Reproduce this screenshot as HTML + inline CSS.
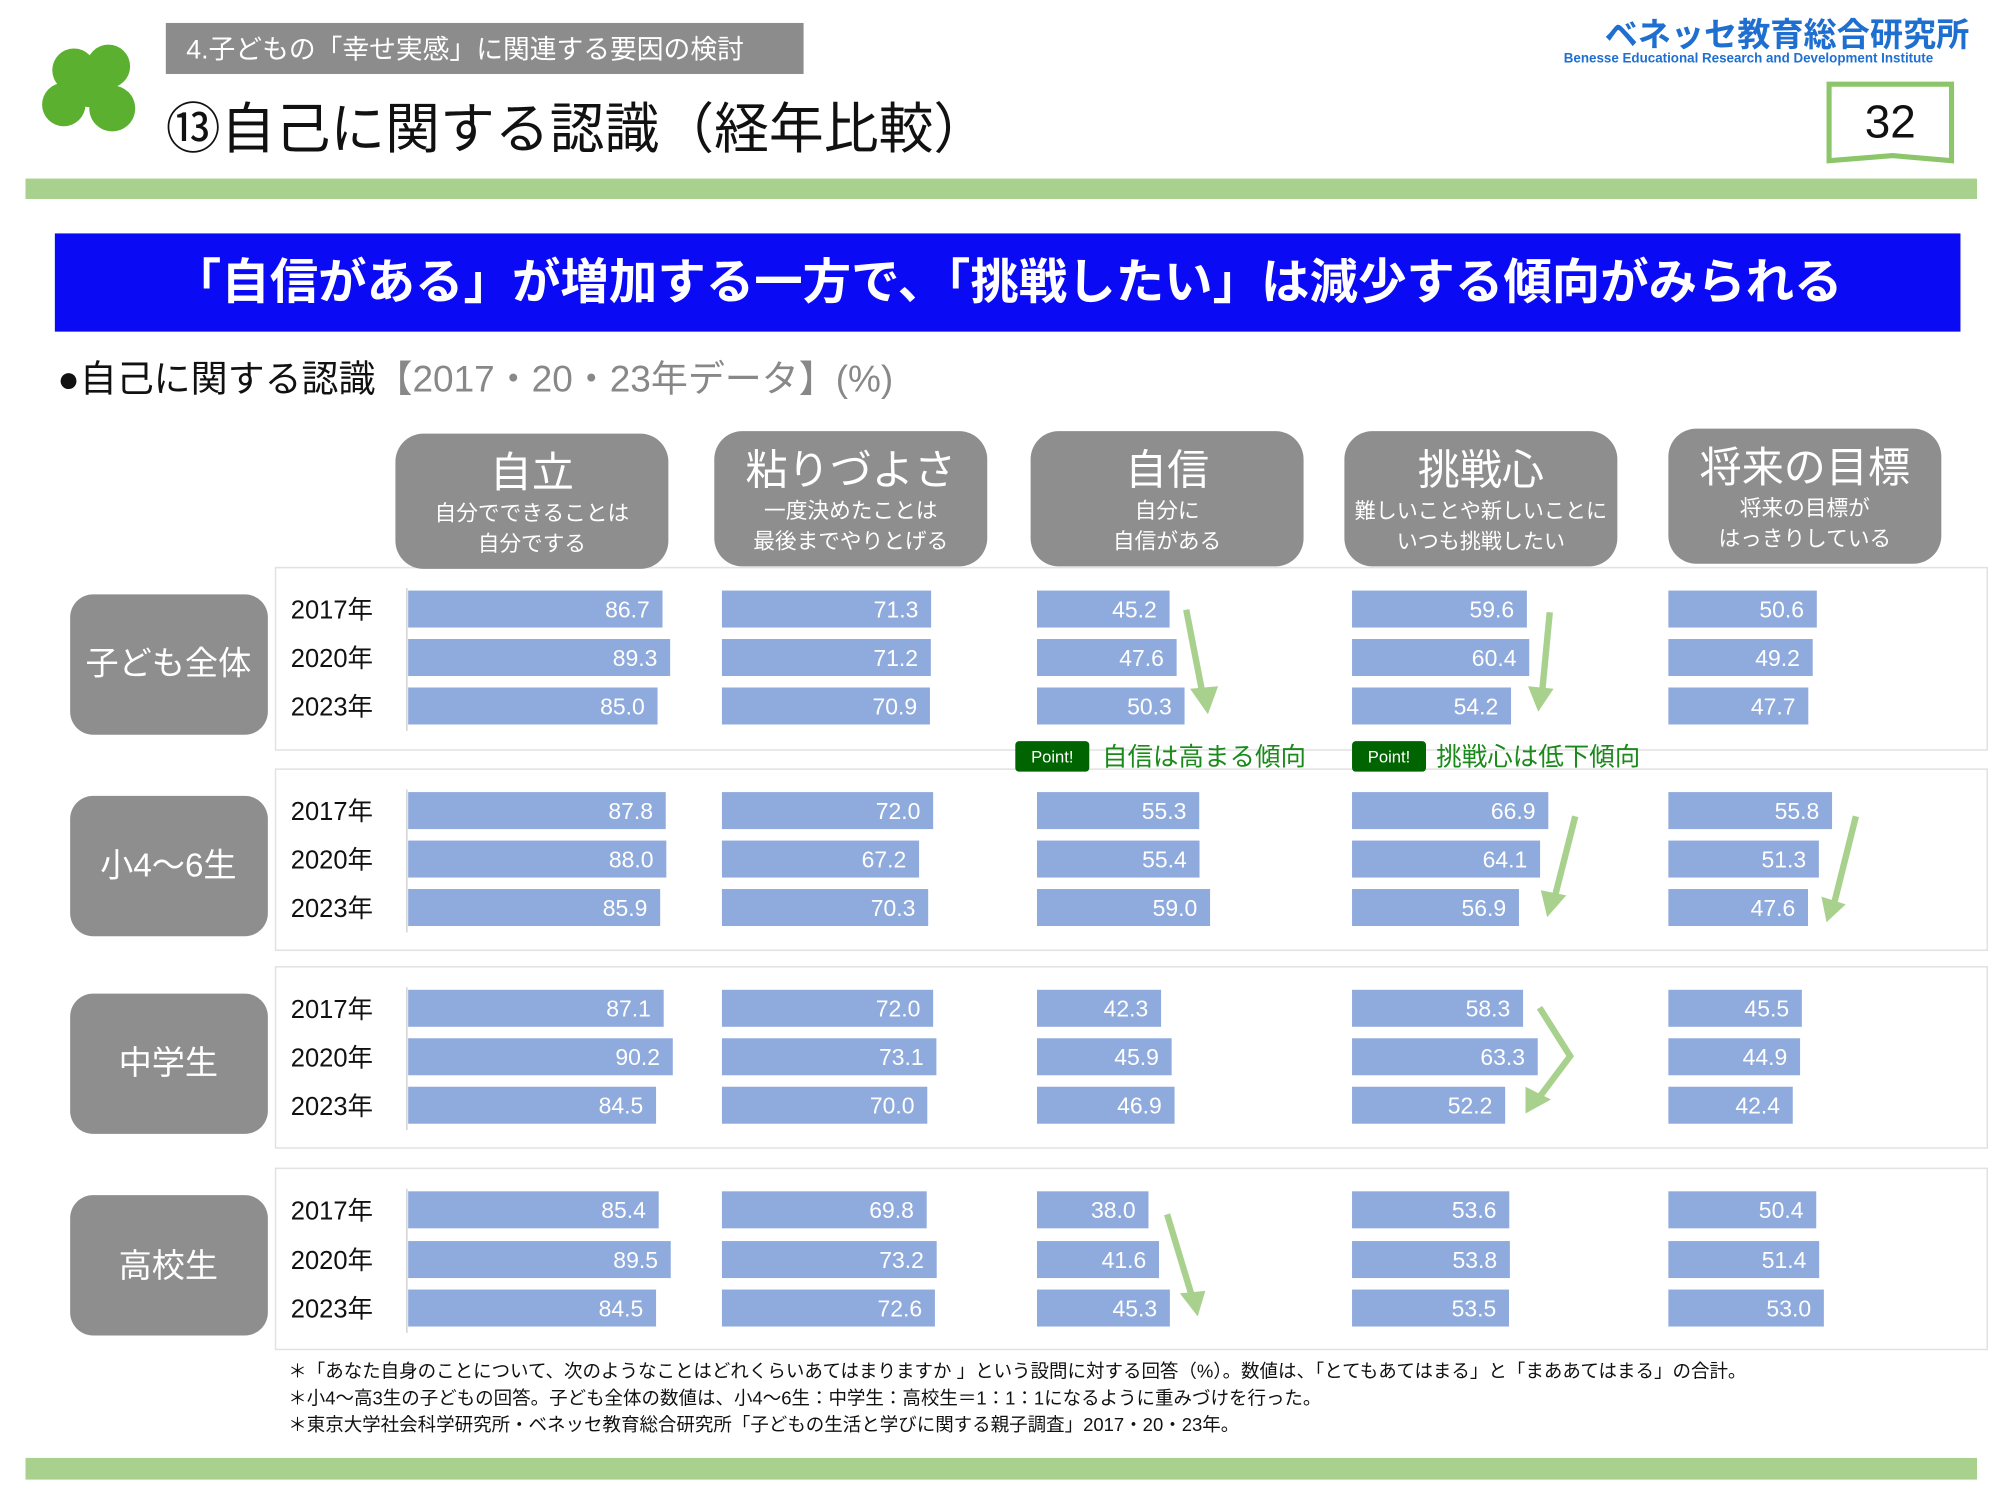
<!DOCTYPE html>
<html><head><meta charset="utf-8"><style>
html,body{margin:0;padding:0;background:#fff}
svg{display:block}
text{font-family:"Liberation Sans","Noto Sans CJK JP",sans-serif}
</style></head><body>
<svg id="chart" width="2000" height="1500" viewBox="0 0 1568 1176" xmlns="http://www.w3.org/2000/svg">
<g fill="#5bb030">
<circle cx="58" cy="55" r="17"/><circle cx="85" cy="52" r="17"/><circle cx="50" cy="82" r="17"/><circle cx="88" cy="85" r="18"/><circle cx="70" cy="70" r="14"/>
</g>
<rect x="130" y="18" width="500" height="40" fill="#8c8c8c"/>
<text x="146" y="46" font-size="21" fill="#fff">4.子どもの「幸せ実感」に関連する要因の検討</text>
<text x="130" y="116" font-size="43" fill="#111">⑬自己に関する認識（経年比較）</text>
<text x="1258" y="36" font-size="26" font-weight="bold" fill="#1f6fd0">ベネッセ教育総合研究所</text>
<text x="1226" y="49" font-size="10.5" font-weight="bold" fill="#1f6fd0">Benesse  Educational Research and Development Institute</text>
<g>
<path d="M1434 66 L1530 66 L1530 126 L1484 122 L1434 126 Z" fill="#fff" stroke="#8cc56a" stroke-width="4"/>
<text x="1482" y="108" font-size="36" text-anchor="middle" fill="#111">32</text></g>
<rect x="20" y="140" width="1530" height="16" fill="#a9d18e"/>
<rect x="43" y="183" width="1494" height="77" fill="#0a0af5"/>
<text x="790" y="234" font-size="38" font-weight="bold" text-anchor="middle" fill="#fff">「自信がある」が増加する一方で、「挑戦したい」は減少する傾向がみられる</text>
<text x="45" y="307" font-size="29" fill="#111">●自己に関する認識<tspan fill="#888">【2017・20・23年データ】(%)</tspan></text>
<g id="panels"></g>
<g id="headers"></g>
<g id="bars"></g>
<g stroke="#a9d18e" stroke-width="5" fill="none">
<path d="M930 478 L943 545"/><path d="M1215 480 L1209 543"/><path d="M1235 640 L1219 703"/><path d="M1455 640 L1438 708"/><path d="M1207 790 L1231 828 L1207 860"/><path d="M915 952 L935 1018"/>
</g>
<g fill="#a9d18e">
<path d="M933 540 L955 538 L947 560 Z"/><path d="M1198 538 L1218 540 L1206 558 Z"/><path d="M1208 698 L1228 702 L1213 719 Z"/><path d="M1428 703 L1447 709 L1432 723 Z"/><path d="M1196 852 L1216 862 L1196 873 Z"/><path d="M925 1014 L945 1012 L939 1032 Z"/>
</g>
<g>
<rect x="796" y="581" width="58" height="24" rx="3" fill="#006400"/><text x="825" y="598" font-size="13" fill="#fff" text-anchor="middle">Point!</text>
<text x="864" y="600" font-size="20" fill="#1a8a1a">自信は高まる傾向</text>
<rect x="1060" y="581" width="58" height="24" rx="3" fill="#006400"/><text x="1089" y="598" font-size="13" fill="#fff" text-anchor="middle">Point!</text>
<text x="1126" y="600" font-size="20" fill="#1a8a1a">挑戦心は低下傾向</text>
</g>
<g font-size="14.5" fill="#111">
<text x="226" y="1080">＊「あなた自身のことについて、次のようなことはどれくらいあてはまりますか 」という設問に対する回答（%）。数値は、「とてもあてはまる」と「まああてはまる」の合計。</text>
<text x="226" y="1101">＊小4～高3生の子どもの回答。子ども全体の数値は、小4～6生：中学生：高校生＝1：1：1になるように重みづけを行った。</text>
<text x="226" y="1122">＊東京大学社会科学研究所・ベネッセ教育総合研究所「子どもの生活と学びに関する親子調査」2017・20・23年。</text>
</g>
<rect x="20" y="1143" width="1530" height="17" fill="#a9d18e"/>
<script>
const categories=["自立","粘りづよさ","自信","挑戦心","将来の目標"];
const subtitles=[["自分でできることは","自分でする"],["一度決めたことは","最後までやりとげる"],["自分に","自信がある"],["難しいことや新しいことに","いつも挑戦したい"],["将来の目標が","はっきりしている"]];
const groups=["子ども全体","小4～6生","中学生","高校生"];
const years=["2017年","2020年","2023年"];
const jiritsu=[[86.7,89.3,85.0],[87.8,88.0,85.9],[87.1,90.2,84.5],[85.4,89.5,84.5]];
const nebari=[[71.3,71.2,70.9],[72.0,67.2,70.3],[72.0,73.1,70.0],[69.8,73.2,72.6]];
const jishin=[[45.2,47.6,50.3],[55.3,55.4,59.0],[42.3,45.9,46.9],[38.0,41.6,45.3]];
const chosen=[[59.6,60.4,54.2],[66.9,64.1,56.9],[58.3,63.3,52.2],[53.6,53.8,53.5]];
const mokuhyo=[[50.6,49.2,47.7],[55.8,51.3,47.6],[45.5,44.9,42.4],[50.4,51.4,53.0]];
const series=[jiritsu,nebari,jishin,chosen,mokuhyo];
const NS="http://www.w3.org/2000/svg";
function mk(tag,attrs,parent,txt){const e=document.createElementNS(NS,tag);for(const k in attrs)e.setAttribute(k,attrs[k]);if(txt!==undefined)e.textContent=txt;parent.appendChild(e);return e;}
const colX=[320,566,813,1060,1308];
const hdrX=[310,560,808,1054,1308];
const groupTop=[445,603,758,916];
const groupRowY=[[477,515,553],[635,673,711],[790,828,866],[948,987,1025]];
const pxPerUnit=2.3;
function xScale(c,v){return colX[c]+v*pxPerUnit;}
const panels=document.getElementById('panels');
const headers=document.getElementById('headers');
const bars=document.getElementById('bars');
groups.forEach((g,gi)=>{
  const p=mk('rect',{x:216,y:groupTop[gi],width:1342,height:gi==0?143:142,fill:'#fff',stroke:'#e2e2e2','stroke-width':1.2},panels);
  
  
  const ax=mk('line',{x1:319,x2:319,y1:groupRowY[gi][0]-16,y2:groupRowY[gi][2]+20,stroke:'#ccc'},panels);
  
  
  const lb=mk('rect',{x:55,y:groupRowY[gi][0]-11,width:155,height:110,rx:18,fill:'#8e8e8e'},panels);
  
  
  const lt=mk('text',{x:132,y:groupRowY[gi][1]+14,'font-size':26,fill:'#fff','text-anchor':'middle'},panels,g);
  
  
  years.forEach((y,yi)=>{
    const t=mk('text',{x:228,y:groupRowY[gi][yi]+8,'font-size':20,fill:'#111'},panels,y);
    
    
  });
});
categories.forEach((c,ci)=>{
  const hy=ci==4?336:(ci==0?340:338);
  const r=mk('rect',{x:hdrX[ci],y:hy,width:214,height:106,rx:22,fill:'#8e8e8e'},headers);
  
  
  const t=mk('text',{x:hdrX[ci]+107,y:hy+42,'font-size':33,fill:'#fff','text-anchor':'middle'},headers,c);
  
  
  subtitles[ci].forEach((s,si)=>{
    const st=mk('text',{x:hdrX[ci]+107,y:hy+68+si*24,'font-size':ci==3?16.5:17,fill:'#fff','text-anchor':'middle'},headers,s);
    
    
  });
  series[ci].forEach((vals,gi)=>{
    vals.forEach((v,yi)=>{
      const cy=groupRowY[gi][yi];
      const b=mk('rect',{x:colX[ci],y:cy-14,width:xScale(ci,v)-colX[ci],height:29,fill:'#8faadc'},bars);
      
      
      const vt=mk('text',{x:xScale(ci,v)-10,y:cy+7,'font-size':18,fill:'#fff','text-anchor':'end'},bars,v.toFixed(1));
      
      
    });
  });
});
</script>
</svg>
</body></html>
